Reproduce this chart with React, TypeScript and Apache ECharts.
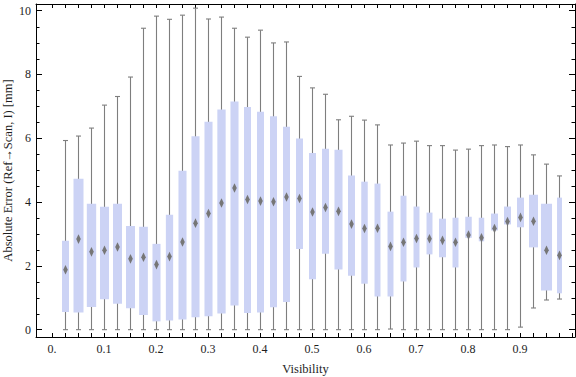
import React, { useEffect, useRef } from "react";
import * as echarts from "echarts";

// Bin centres (Visibility)
const visibility = [
  0.025, 0.05, 0.075, 0.1, 0.125, 0.15, 0.175, 0.2, 0.225, 0.25,
  0.275, 0.3, 0.325, 0.35, 0.375, 0.4, 0.425, 0.45, 0.475, 0.5,
  0.525, 0.55, 0.575, 0.6, 0.625, 0.65, 0.675, 0.7, 0.725, 0.75,
  0.775, 0.8, 0.825, 0.85, 0.875, 0.9, 0.925, 0.95, 0.975,
];
// Whisker ends, quartiles and centre marker (mm)
const whiskerLow = [
  0, 0, 0, 0, 0, 0, 0, 0, 0, 0,
  0, 0, 0, 0, 0, 0, 0, 0, 0, 0,
  0, 0, 0, 0, 0, 0.02, 0, 0, 0, 0,
  0, 0, 0, 0, 0, 0.08, 0.68, 0.93, 0.96,
];
const quartile1 = [
  0.55, 0.54, 0.71, 0.95, 0.81, 0.67, 0.46, 0.26, 0.29, 0.32,
  0.39, 0.42, 0.51, 0.76, 0.52, 0.54, 0.7, 0.87, 2.53, 1.58,
  2.38, 1.89, 1.69, 1.44, 1.04, 1.04, 1.51, 1.95, 2.36, 2.27,
  1.95, 2.88, 2.77, 3.11, 3.3, 3.21, 2.58, 1.23, 1.14,
];
const centre = [
  1.88, 2.84, 2.44, 2.49, 2.59, 2.22, 2.27, 2.04, 2.29, 2.75,
  3.34, 3.64, 3.97, 4.44, 4.08, 4.03, 4.01, 4.16, 4.11, 3.69,
  3.83, 3.71, 3.31, 3.17, 3.18, 2.61, 2.74, 2.86, 2.85, 2.8,
  2.74, 2.97, 2.88, 3.17, 3.39, 3.52, 3.4, 2.49, 2.33,
];
const quartile3 = [
  2.79, 4.73, 3.95, 3.85, 3.95, 3.25, 3.23, 2.69, 3.6, 4.98,
  6.06, 6.52, 6.9, 7.15, 6.98, 6.83, 6.69, 6.36, 5.99, 5.54,
  5.67, 5.64, 4.83, 4.64, 4.58, 3.7, 4.2, 3.86, 3.67, 3.48,
  3.51, 3.54, 3.51, 3.64, 3.86, 4.14, 4.23, 3.95, 4.14,
];
const whiskerHigh = [
  5.93, 6.07, 6.32, 7.04, 7.31, 7.92, 9.45, 9.83, 9.73, 9.86,
  10.08, 9.74, 9.8, 9.45, 9.17, 9.39, 8.99, 9.02, 7.94, 7.58,
  7.38, 6.58, 6.69, 6.57, 6.42, 5.79, 5.85, 5.91, 5.77, 5.77,
  5.63, 5.66, 5.77, 5.79, 5.74, 5.79, 5.48, 5.19, 4.82,
];
// Relative box width (fraction of bin spacing)
const widthFraction = [
  0.54, 0.77, 0.72, 0.69, 0.69, 0.69, 0.67, 0.62, 0.56, 0.62,
  0.62, 0.62, 0.64, 0.62, 0.54, 0.54, 0.54, 0.54, 0.54, 0.54,
  0.54, 0.62, 0.54, 0.5, 0.46, 0.46, 0.46, 0.46, 0.46, 0.54,
  0.46, 0.5, 0.42, 0.54, 0.54, 0.54, 0.69, 0.85, 0.38,
];

const binStep = 0.025;
const xLabelValues = [0, 0.1, 0.2, 0.3, 0.4, 0.5, 0.6, 0.7, 0.8, 0.9];
const xLabelTexts = ["0.", "0.1", "0.2", "0.3", "0.4", "0.5", "0.6", "0.7", "0.8", "0.9"];
const yMajorValues = [0, 2, 4, 6, 8, 10];
const yLabelTexts = ["0", "2", "4", "6", "8", "10"];
const yMinorValues = [0.5, 1, 1.5, 2.5, 3, 3.5, 4.5, 5, 5.5, 6.5, 7, 7.5, 8.5, 9, 9.5];

const xTickValues: number[] = [];
for (let i = 0; i <= 40; i++) xTickValues.push(+(i * binStep).toFixed(3));

const FONT = "Liberation Serif";
const TXT = "#1e1e1e";
const X_MIN = -0.0308;
const X_MAX = 1.0058;
const Y_MIN = -0.23;
const Y_MAX = 10.21;

export default function App() {
  const ref = useRef<HTMLDivElement>(null);
  useEffect(() => {
    if (!ref.current) return;
    const chart = echarts.init(ref.current, undefined, { renderer: "svg" });
    const data = visibility.map((v, i) => [
      v,
      whiskerLow[i],
      quartile1[i],
      centre[i],
      quartile3[i],
      whiskerHigh[i],
      widthFraction[i],
    ]);
    const axisLineStyle = { color: "#000", width: 1 };

    chart.setOption({
      animation: false,
      backgroundColor: "#ffffff",
      textStyle: { fontFamily: FONT },
      grid: {
        left: 36,
        right: 1,
        top: 4,
        bottom: 40,
        containLabel: false,
        outerBoundsMode: "none",
      },
      xAxis: [
        {
          type: "value",
          min: X_MIN,
          max: X_MAX,
          position: "bottom",
          name: "Visibility",
          nameLocation: "middle",
          nameGap: 25,
          nameMoveOverlap: false,
          nameTextStyle: { fontFamily: FONT, fontSize: 12.5, color: TXT },
          axisLine: { show: true, onZero: false, lineStyle: axisLineStyle },
          axisTick: {
            show: true,
            inside: true,
            length: 4,
            customValues: xTickValues,
            lineStyle: axisLineStyle,
          },
          axisLabel: {
            show: true,
            customValues: xLabelValues,
            margin: 6,
            fontFamily: FONT,
            fontSize: 12,
            color: TXT,
            formatter: (v: number) => {
              const idx = xLabelValues.findIndex((t) => Math.abs(t - v) < 1e-6);
              return idx >= 0 ? xLabelTexts[idx] : "";
            },
          },
          splitLine: { show: false },
        },
        {
          type: "value",
          min: X_MIN,
          max: X_MAX,
          position: "top",
          axisLine: { show: true, onZero: false, lineStyle: axisLineStyle },
          axisTick: {
            show: true,
            inside: true,
            length: 4,
            customValues: xTickValues,
            lineStyle: axisLineStyle,
          },
          axisLabel: { show: false },
          splitLine: { show: false },
        },
      ],
      yAxis: [
        {
          type: "value",
          min: Y_MIN,
          max: Y_MAX,
          position: "left",
          name: "Absolute Error (Ref\u2192Scan, I) [mm]",
          nameLocation: "middle",
          nameGap: 22,
          nameMoveOverlap: false,
          nameTextStyle: { fontFamily: FONT, fontSize: 12.5, color: TXT },
          axisLine: { show: true, onZero: false, lineStyle: axisLineStyle },
          axisTick: {
            show: true,
            inside: true,
            length: 6,
            customValues: yMajorValues,
            lineStyle: axisLineStyle,
          },
          axisLabel: {
            show: true,
            customValues: yMajorValues,
            margin: 5,
            fontFamily: FONT,
            fontSize: 12,
            color: TXT,
            formatter: (v: number) => {
              const idx = yMajorValues.findIndex((t) => Math.abs(t - v) < 1e-6);
              return idx >= 0 ? yLabelTexts[idx] : "";
            },
          },
          splitLine: { show: false },
        },
        {
          type: "value",
          min: Y_MIN,
          max: Y_MAX,
          position: "right",
          axisLine: { show: true, onZero: false, lineStyle: axisLineStyle },
          axisTick: {
            show: true,
            inside: true,
            length: 6,
            customValues: yMajorValues,
            lineStyle: axisLineStyle,
          },
          axisLabel: { show: false },
          splitLine: { show: false },
        },
      ],
      series: [
        {
          // minor ticks on the left and right frame
          type: "custom",
          xAxisIndex: 0,
          yAxisIndex: 0,
          silent: true,
          data: yMinorValues.map((v) => [0, v]),
          encode: { y: 1 },
          renderItem: (params: any, api: any) => {
            const cs = params.coordSys;
            const y = Math.round(api.coord([0, api.value(1)])[1]) + 0.5;
            const st = { stroke: "#000", lineWidth: 1 };
            return {
              type: "group",
              children: [
                { type: "line", shape: { x1: cs.x, y1: y, x2: cs.x + 3.5, y2: y }, style: st },
                {
                  type: "line",
                  shape: { x1: cs.x + cs.width - 3.5, y1: y, x2: cs.x + cs.width, y2: y },
                  style: st,
                },
              ],
            };
          },
        },
        {
          type: "custom",
          xAxisIndex: 0,
          yAxisIndex: 0,
          data,
          encode: { x: 0, y: [1, 2, 3, 4, 5] },
          renderItem: (params: any, api: any) => {
            const x = api.value(0);
            const pLow = api.coord([x, api.value(1)]);
            const pQ1 = api.coord([x, api.value(2)]);
            const pM = api.coord([x, api.value(3)]);
            const pQ3 = api.coord([x, api.value(4)]);
            const pHigh = api.coord([x, api.value(5)]);
            const bw = api.size([api.value(6) * binStep, 0])[0];
            const cx = Math.round(pLow[0]) + 0.5;
            const capW = 2.5;
            const lineStyle = { stroke: "#7e7e7e", lineWidth: 1.1 };
            return {
              type: "group",
              children: [
                {
                  type: "line",
                  shape: { x1: cx, y1: pHigh[1], x2: cx, y2: pLow[1] },
                  style: lineStyle,
                },
                {
                  type: "line",
                  shape: { x1: cx - capW, y1: pHigh[1], x2: cx + capW, y2: pHigh[1] },
                  style: lineStyle,
                },
                {
                  type: "line",
                  shape: { x1: cx - capW, y1: pLow[1], x2: cx + capW, y2: pLow[1] },
                  style: lineStyle,
                },
                {
                  type: "rect",
                  shape: {
                    x: cx - bw / 2,
                    y: pQ3[1],
                    width: bw,
                    height: pQ1[1] - pQ3[1],
                  },
                  style: { fill: "#ccd3f5" },
                },
                {
                  type: "polygon",
                  shape: {
                    points: [
                      [cx, pM[1] - 4.8],
                      [cx + 2.3, pM[1]],
                      [cx, pM[1] + 4.8],
                      [cx - 2.3, pM[1]],
                    ],
                  },
                  style: { fill: "#767676" },
                },
              ],
            };
          },
        },
      ],
    });
    return () => chart.dispose();
  }, []);

  return (
    <div
      ref={ref}
      style={{ position: "absolute", left: 0, top: 0, width: 576, height: 377 }}
    />
  );
}
